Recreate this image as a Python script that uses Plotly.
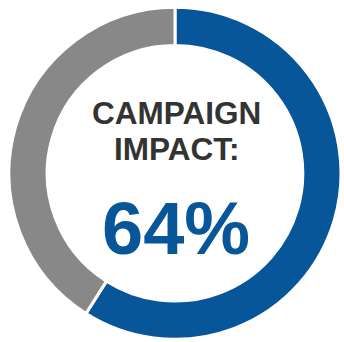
import plotly.graph_objects as go

labels = ["Impact", "Remainder"]
values = [59, 41]
colors = ["#08569a", "#888888"]
title_lines = ["CAMPAIGN", "IMPACT:"]
center_value = "64%"

W, H = 344, 342

fig = go.Figure(go.Pie(
    labels=labels, values=values, hole=0.77, sort=False,
    direction="clockwise", rotation=0,
    marker=dict(colors=colors, line=dict(color="white", width=3)),
    textinfo="none", hoverinfo="none",
    domain=dict(x=[9/W, 341/W], y=[1-339.5/H, 1-7/H]),
))

def py(y):
    return 1 - y / H

fig.add_annotation(x=176/W, y=py(113), xref="paper", yref="paper", text=title_lines[0],
                   showarrow=False, font=dict(family="Liberation Sans, Arial", size=31.5, color="#333333"),
                   xanchor="center", yanchor="middle")
fig.add_annotation(x=176/W, y=py(149), xref="paper", yref="paper", text=title_lines[1],
                   showarrow=False, font=dict(family="Liberation Sans, Arial", size=31.5, color="#333333"),
                   xanchor="center", yanchor="middle")
fig.add_annotation(x=176/W, y=py(228), xref="paper", yref="paper", text=center_value,
                   showarrow=False, font=dict(family="Liberation Sans, Arial", size=74, color=colors[0]),
                   xanchor="center", yanchor="middle")
for a in fig.layout.annotations:
    a.text = "<b>" + a.text + "</b>"

fig.update_layout(width=W, height=H, margin=dict(l=0, r=0, t=0, b=0),
                  showlegend=False, paper_bgcolor="white", plot_bgcolor="white")
fig.write_html("out.html")
